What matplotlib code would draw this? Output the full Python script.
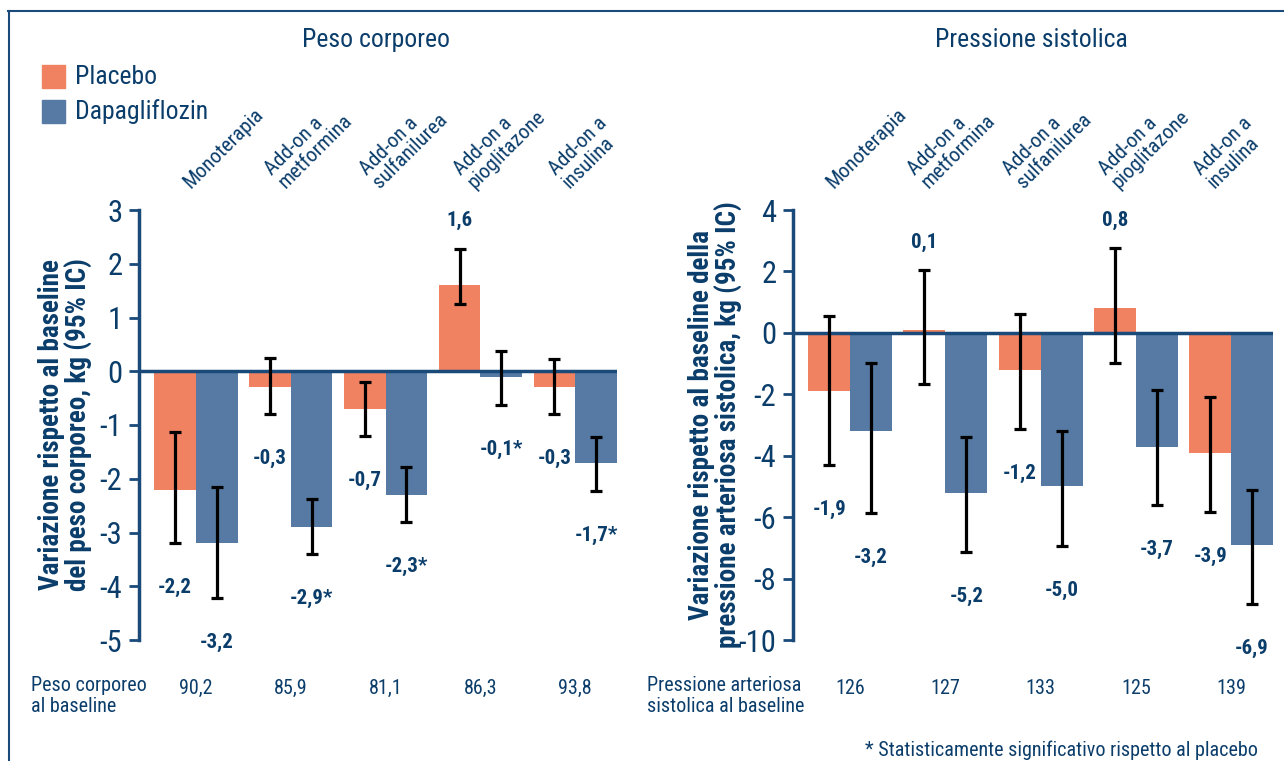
import matplotlib
matplotlib.use("Agg")
import matplotlib.pyplot as plt
from matplotlib import font_manager
from matplotlib.patches import Rectangle
from matplotlib.lines import Line2D

categories = ["Monoterapia", "Add-on a\nmetformina", "Add-on a\nsulfanilurea",
              "Add-on a\npioglitazone", "Add-on a\ninsulina"]

# Peso corporeo (kg): media e IC 95%
peso_placebo = [-2.2, -0.3, -0.7, 1.6, -0.3]
peso_placebo_lo = [-3.2, -0.79, -1.21, 1.26, -0.79]
peso_placebo_hi = [-1.13, 0.24, -0.2, 2.28, 0.22]
peso_dapa = [-3.2, -2.9, -2.3, -0.1, -1.7]
peso_dapa_lo = [-4.22, -3.4, -2.8, -0.63, -2.23]
peso_dapa_hi = [-2.16, -2.38, -1.78, 0.37, -1.22]
peso_dapa_sig = [False, True, True, True, True]
peso_baseline = ["90,2", "85,9", "81,1", "86,3", "93,8"]

# Pressione sistolica (mmHg): media e IC 95%
pas_placebo = [-1.9, 0.1, -1.2, 0.8, -3.9]
pas_placebo_lo = [-4.3, -1.66, -3.13, -0.97, -5.83]
pas_placebo_hi = [0.55, 2.05, 0.6, 2.77, -2.08]
pas_dapa = [-3.2, -5.2, -5.0, -3.7, -6.9]
pas_dapa_lo = [-5.86, -7.15, -6.93, -5.6, -8.83]
pas_dapa_hi = [-0.97, -3.4, -3.2, -1.86, -5.1]
pas_dapa_sig = [False, False, False, False, False]
pas_baseline = ["126", "127", "133", "125", "139"]

NAVY = "#0B3D6B"
SPINE = "#1A4A7A"
ORANGE = "#F08262"
BLUE = "#567AA3"
W, H = 1284, 761


def pick_font(names):
    for n in names:
        try:
            font_manager.findfont(n, fallback_to_default=False)
            return n
        except ValueError:
            continue
    return "DejaVu Sans"


FONT = pick_font(["Liberation Sans Narrow", "Roboto Condensed", "Noto Sans Condensed",
                  "Open Sans Condensed", "Arial Narrow", "Liberation Sans"])
plt.rcParams["font.family"] = [FONT, "DejaVu Sans"]


def fx(x):
    return x / W


def fy(y):
    return 1 - y / H


def fmt(v, star=False):
    return f"{v:.1f}".replace(".", ",") + ("*" if star else "")


def draw_panel(ax, placebo, p_lo, p_hi, dapa, d_lo, d_hi, sig, ylim, yticks, ylabel, label_x, cat_dx):
    bw = 0.44
    x = list(range(len(categories)))
    ax.bar(x, placebo, width=-bw, align="edge", color=ORANGE, zorder=2)
    ax.bar(x, dapa, width=bw, align="edge", color=BLUE, zorder=2)
    ax.axhline(0, color=SPINE, lw=2.5, zorder=3)

    xp = [i - bw / 2 for i in x]
    xd = [i + bw / 2 for i in x]
    for xs, vals, lo, hi, stars in ((xp, placebo, p_lo, p_hi, [False] * 5),
                                    (xd, dapa, d_lo, d_hi, sig)):
        err = [[v - l for v, l in zip(vals, lo)], [h - v for v, h in zip(vals, hi)]]
        ax.errorbar(xs, vals, yerr=err, fmt="none", ecolor="black", elinewidth=2.3,
                    capsize=4.5, capthick=2.3, zorder=4)
        for xi, v, l, h, s in zip(xs, vals, lo, hi, stars):
            if v >= 0:
                ax.annotate(fmt(v, s), xy=(xi, h), xytext=(0, 20), textcoords="offset points",
                            ha="center", va="center", fontsize=15, fontweight="bold", color=NAVY)
            else:
                ax.annotate(fmt(v, s), xy=(xi, l), xytext=(0, -32), textcoords="offset points",
                            ha="center", va="center", fontsize=15, fontweight="bold", color=NAVY)

    for i, cat in enumerate(categories):
        ax.annotate(cat, xy=(i, 1), xycoords=("data", "axes fraction"), xytext=(cat_dx, 13),
                    textcoords="offset points", rotation=45, rotation_mode="anchor",
                    ha="left", va="bottom", fontsize=15, color=NAVY, linespacing=1.0)

    ax.set_xlim(-0.6, 4.44)
    ax.set_ylim(*ylim)
    ax.set_yticks(yticks)
    ax.set_yticklabels([str(t) for t in yticks])
    ax.set_xticks([])
    for s in ("top", "right", "bottom"):
        ax.spines[s].set_visible(False)
    ax.spines["left"].set_color(SPINE)
    ax.spines["left"].set_linewidth(2.5)
    ax.tick_params(axis="y", length=7, width=2, color=SPINE, labelsize=22,
                   labelcolor=NAVY, pad=5)
    ax.set_ylabel(ylabel, fontsize=19.5, fontweight="bold", color=NAVY, linespacing=1.0)
    ax.yaxis.set_label_coords(label_x, 0.5)
    ax.set_facecolor("none")


fig = plt.figure(figsize=(W / 100, H / 100), dpi=100)

ax1 = fig.add_axes([fx(139), fy(640), fx(617) - fx(139), (640 - 210) / H])
ax2 = fig.add_axes([fx(793), fy(640), fx(1273) - fx(793), (640 - 210) / H])

draw_panel(ax1, peso_placebo, peso_placebo_lo, peso_placebo_hi,
           peso_dapa, peso_dapa_lo, peso_dapa_hi, peso_dapa_sig,
           (-5, 3), [3, 2, 1, 0, -1, -2, -3, -4, -5],
           "Variazione rispetto al baseline\ndel peso corporeo, kg (95% IC)", -0.096, -2)
draw_panel(ax2, pas_placebo, pas_placebo_lo, pas_placebo_hi,
           pas_dapa, pas_dapa_lo, pas_dapa_hi, pas_dapa_sig,
           (-10, 4), [4, 2, 0, -2, -4, -6, -8, -10],
           "Variazione rispetto al baseline della\npressione arteriosa sistolica, kg (95% IC)", -0.104, -10)

# titoli dei pannelli
fig.text(fx(376), fy(40), "Peso corporeo", ha="center", va="center", fontsize=18.5, color=NAVY)
fig.text(fx(1031), fy(40), "Pressione sistolica", ha="center", va="center", fontsize=18.5, color=NAVY)

# legenda
for y, col, name in ((65, ORANGE, "Placebo"), (100, BLUE, "Dapagliflozin")):
    fig.patches.append(Rectangle((fx(42), fy(y + 23)), 23 / W, 23 / H, color=col,
                                 transform=fig.transFigure))
    fig.text(fx(75), fy(y + 11.5), name, ha="left", va="center", fontsize=18.5, color=NAVY)

# valori al baseline
for ax, labels in ((ax1, peso_baseline), (ax2, pas_baseline)):
    for i, lab in enumerate(labels):
        ax.annotate(lab, xy=(i, 0), xycoords=("data", "axes fraction"),
                    xytext=(0, -48 * 0.72), textcoords="offset points",
                    ha="center", va="center", fontsize=14.5, color=NAVY)
fig.text(fx(31), fy(676), "Peso corporeo\nal baseline", ha="left", va="top",
         fontsize=14.5, color=NAVY, linespacing=1.1)
fig.text(fx(647), fy(676), "Pressione arteriosa\nsistolica al baseline", ha="left", va="top",
         fontsize=14.5, color=NAVY, linespacing=1.1)

fig.text(fx(1258), fy(750), "* Statisticamente significativo rispetto al placebo",
         ha="right", va="center", fontsize=14.5, color=NAVY)

# cornice
fig.lines.append(Line2D([fx(8), 1], [fy(11), fy(11)], color=SPINE, lw=1.5,
                        transform=fig.transFigure))
fig.lines.append(Line2D([fx(9), fx(9)], [fy(11), 0], color=SPINE, lw=1.5,
                        transform=fig.transFigure))

fig.savefig("out.png", dpi=100, facecolor="white")
